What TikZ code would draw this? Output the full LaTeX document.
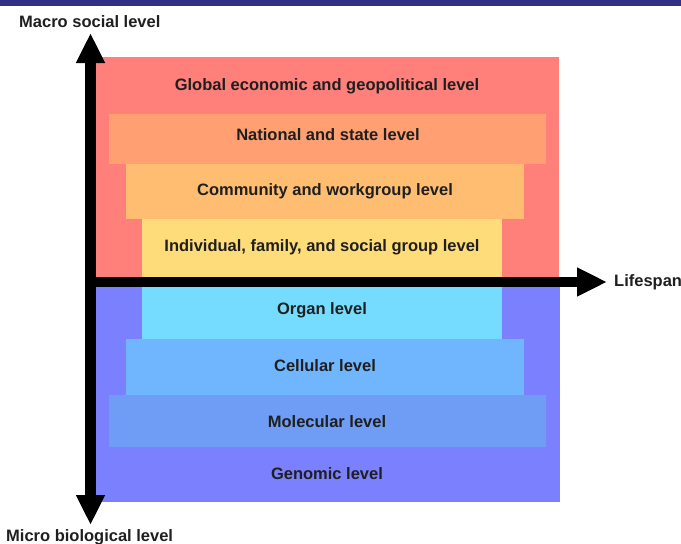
\documentclass[tikz,border=0pt]{standalone}
\usepackage{fontspec}
\setmainfont{Liberation Sans}
\usetikzlibrary{arrows.meta}
\definecolor{barnavy}{HTML}{2E3182}
\definecolor{globalred}{HTML}{FF7F7A}
\definecolor{nationalorange}{HTML}{FF9F72}
\definecolor{communityorange}{HTML}{FFBD72}
\definecolor{individualyellow}{HTML}{FFDC7A}
\definecolor{organcyan}{HTML}{76DCFF}
\definecolor{cellularblue}{HTML}{70B6FF}
\definecolor{molecularblue}{HTML}{6F9DF6}
\definecolor{genomicblue}{HTML}{7B80FF}
\tikzset{
  band/.style={inner sep=0pt, font=\fontsize{16.5}{18}\selectfont\bfseries, text=black!88},
  axislabel/.style={inner sep=0pt, font=\fontsize{16.5}{18}\selectfont\bfseries, text=black!88},
  axisarrow/.style={line width=10.5pt, -{Triangle[width=27pt,length=30pt]}}
}
\begin{document}
\begin{tikzpicture}[x=1pt,y=-1pt]
    \useasboundingbox (0,0) rectangle (681,544);
    \fill[barnavy] (0,0) rectangle (681,6);
    % big social and biological halves
    \fill[globalred] (96,57) rectangle (559,279);
    \fill[genomicblue] (96,286) rectangle (560,502);
    % social bands
    \fill[nationalorange] (109,114) rectangle (546,164);
    \fill[communityorange] (126,164) rectangle (524,219);
    \fill[individualyellow] (142,219) rectangle (502,279);
    % biological bands
    \fill[organcyan] (142,286) rectangle (502,339);
    \fill[cellularblue] (126,339) rectangle (524,395);
    \fill[molecularblue] (109,395) rectangle (546,447);
    \node[band] (global) at (327,86) {Global economic and geopolitical level};
    \node[band] (national) at (328,135) {National and state level};
    \node[band] (community) at (325,191) {Community and workgroup level};
    \node[band] (individual) at (322,247) {Individual, family, and social group level};
    \node[band] (organ) at (322,310) {Organ level};
    \node[band] (cellular) at (325,366) {Cellular level};
    \node[band] (molecular) at (327,422) {Molecular level};
    \node[band] (genomic) at (327,474) {Genomic level};
    % axes
    \coordinate (origin) at (90.5,282);
    \coordinate (macro) at (90.5,33);
    \coordinate (micro) at (90.5,525);
    \coordinate (life) at (607,282);
    \draw[axisarrow] (origin) -- (macro);
    \draw[axisarrow] (origin) -- (micro);
    \draw[axisarrow] (85,282) -- (life);
    \node[axislabel, anchor=west] (macrolabel) at (19,22) {Macro social level};
    \node[axislabel, anchor=west] (microlabel) at (6,537) {Micro biological level};
    \node[axislabel, anchor=west] (lifelabel) at (614,282) {Lifespan};
\end{tikzpicture}
\end{document}
